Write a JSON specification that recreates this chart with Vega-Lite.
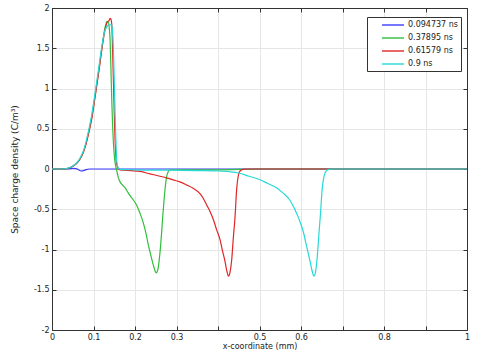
{
  "$schema": "https://vega.github.io/schema/vega-lite/v6.json",
  "width": 415,
  "height": 322,
  "autosize": {"type": "none"},
  "padding": {"left": 52, "top": 8, "right": 10, "bottom": 25},
  "background": "white",
  "config": {
    "font": "DejaVu Sans",
    "view": {"stroke": "#333333", "strokeWidth": 1},
    "axis": {
      "labelFont": "DejaVu Sans",
      "labelFontSize": 8,
      "labelColor": "#222222",
      "titleFont": "DejaVu Sans",
      "titleFontSize": 8,
      "titleFontWeight": "normal",
      "titleColor": "#222222",
      "domainColor": "#333333",
      "tickColor": "#333333",
      "gridColor": "#e6e6e6",
      "gridWidth": 1
    }
  },
  "data": {
    "values": [
      {"t": "0.094737 ns", "x": 0, "y": 0},
      {"t": "0.094737 ns", "x": 0.04, "y": 0},
      {"t": "0.094737 ns", "x": 0.05, "y": 0.008},
      {"t": "0.094737 ns", "x": 0.058, "y": 0.005},
      {"t": "0.094737 ns", "x": 0.064, "y": -0.01},
      {"t": "0.094737 ns", "x": 0.07, "y": -0.025},
      {"t": "0.094737 ns", "x": 0.076, "y": -0.02},
      {"t": "0.094737 ns", "x": 0.082, "y": -0.008},
      {"t": "0.094737 ns", "x": 0.09, "y": 0},
      {"t": "0.094737 ns", "x": 1, "y": 0},

      {"t": "0.37895 ns", "x": 0, "y": 0},
      {"t": "0.37895 ns", "x": 0.02, "y": 0},
      {"t": "0.37895 ns", "x": 0.035, "y": 0.005},
      {"t": "0.37895 ns", "x": 0.043, "y": 0.016},
      {"t": "0.37895 ns", "x": 0.05, "y": 0.035},
      {"t": "0.37895 ns", "x": 0.059, "y": 0.07},
      {"t": "0.37895 ns", "x": 0.066, "y": 0.115},
      {"t": "0.37895 ns", "x": 0.072, "y": 0.17},
      {"t": "0.37895 ns", "x": 0.078, "y": 0.25},
      {"t": "0.37895 ns", "x": 0.084, "y": 0.36},
      {"t": "0.37895 ns", "x": 0.09, "y": 0.5},
      {"t": "0.37895 ns", "x": 0.096, "y": 0.65},
      {"t": "0.37895 ns", "x": 0.102, "y": 0.85},
      {"t": "0.37895 ns", "x": 0.108, "y": 1.06},
      {"t": "0.37895 ns", "x": 0.112, "y": 1.2},
      {"t": "0.37895 ns", "x": 0.116, "y": 1.35},
      {"t": "0.37895 ns", "x": 0.12, "y": 1.5},
      {"t": "0.37895 ns", "x": 0.124, "y": 1.64},
      {"t": "0.37895 ns", "x": 0.127, "y": 1.74},
      {"t": "0.37895 ns", "x": 0.13, "y": 1.8},
      {"t": "0.37895 ns", "x": 0.132, "y": 1.83},
      {"t": "0.37895 ns", "x": 0.135, "y": 1.83},
      {"t": "0.37895 ns", "x": 0.138, "y": 1.75},
      {"t": "0.37895 ns", "x": 0.14, "y": 1.6},
      {"t": "0.37895 ns", "x": 0.142, "y": 1.25},
      {"t": "0.37895 ns", "x": 0.144, "y": 0.86},
      {"t": "0.37895 ns", "x": 0.146, "y": 0.55},
      {"t": "0.37895 ns", "x": 0.149, "y": 0.24},
      {"t": "0.37895 ns", "x": 0.152, "y": 0.08},
      {"t": "0.37895 ns", "x": 0.156, "y": -0.02},
      {"t": "0.37895 ns", "x": 0.16, "y": -0.11},
      {"t": "0.37895 ns", "x": 0.164, "y": -0.16},
      {"t": "0.37895 ns", "x": 0.17, "y": -0.2},
      {"t": "0.37895 ns", "x": 0.177, "y": -0.24},
      {"t": "0.37895 ns", "x": 0.184, "y": -0.3},
      {"t": "0.37895 ns", "x": 0.194, "y": -0.37},
      {"t": "0.37895 ns", "x": 0.204, "y": -0.45},
      {"t": "0.37895 ns", "x": 0.212, "y": -0.55},
      {"t": "0.37895 ns", "x": 0.22, "y": -0.67},
      {"t": "0.37895 ns", "x": 0.226, "y": -0.79},
      {"t": "0.37895 ns", "x": 0.232, "y": -0.94},
      {"t": "0.37895 ns", "x": 0.238, "y": -1.07},
      {"t": "0.37895 ns", "x": 0.244, "y": -1.19},
      {"t": "0.37895 ns", "x": 0.248, "y": -1.26},
      {"t": "0.37895 ns", "x": 0.251, "y": -1.29},
      {"t": "0.37895 ns", "x": 0.254, "y": -1.27},
      {"t": "0.37895 ns", "x": 0.257, "y": -1.19},
      {"t": "0.37895 ns", "x": 0.26, "y": -1.05},
      {"t": "0.37895 ns", "x": 0.264, "y": -0.8},
      {"t": "0.37895 ns", "x": 0.267, "y": -0.58},
      {"t": "0.37895 ns", "x": 0.27, "y": -0.385},
      {"t": "0.37895 ns", "x": 0.273, "y": -0.22},
      {"t": "0.37895 ns", "x": 0.276, "y": -0.1},
      {"t": "0.37895 ns", "x": 0.28, "y": -0.035},
      {"t": "0.37895 ns", "x": 0.284, "y": -0.012},
      {"t": "0.37895 ns", "x": 0.3, "y": -0.01},
      {"t": "0.37895 ns", "x": 0.4, "y": -0.01},
      {"t": "0.37895 ns", "x": 0.45, "y": -0.005},
      {"t": "0.37895 ns", "x": 0.5, "y": 0},
      {"t": "0.37895 ns", "x": 1, "y": 0},

      {"t": "0.61579 ns", "x": 0, "y": 0},
      {"t": "0.61579 ns", "x": 0.02, "y": 0},
      {"t": "0.61579 ns", "x": 0.035, "y": 0.005},
      {"t": "0.61579 ns", "x": 0.043, "y": 0.015},
      {"t": "0.61579 ns", "x": 0.05, "y": 0.033},
      {"t": "0.61579 ns", "x": 0.059, "y": 0.066},
      {"t": "0.61579 ns", "x": 0.066, "y": 0.11},
      {"t": "0.61579 ns", "x": 0.072, "y": 0.165},
      {"t": "0.61579 ns", "x": 0.078, "y": 0.24},
      {"t": "0.61579 ns", "x": 0.084, "y": 0.35},
      {"t": "0.61579 ns", "x": 0.09, "y": 0.48},
      {"t": "0.61579 ns", "x": 0.096, "y": 0.63},
      {"t": "0.61579 ns", "x": 0.102, "y": 0.83},
      {"t": "0.61579 ns", "x": 0.108, "y": 1.04},
      {"t": "0.61579 ns", "x": 0.112, "y": 1.18},
      {"t": "0.61579 ns", "x": 0.116, "y": 1.33},
      {"t": "0.61579 ns", "x": 0.12, "y": 1.48},
      {"t": "0.61579 ns", "x": 0.124, "y": 1.62},
      {"t": "0.61579 ns", "x": 0.127, "y": 1.71},
      {"t": "0.61579 ns", "x": 0.13, "y": 1.78},
      {"t": "0.61579 ns", "x": 0.134, "y": 1.83},
      {"t": "0.61579 ns", "x": 0.137, "y": 1.84},
      {"t": "0.61579 ns", "x": 0.14, "y": 1.87},
      {"t": "0.61579 ns", "x": 0.142, "y": 1.86},
      {"t": "0.61579 ns", "x": 0.144, "y": 1.8},
      {"t": "0.61579 ns", "x": 0.146, "y": 1.48},
      {"t": "0.61579 ns", "x": 0.148, "y": 1.1},
      {"t": "0.61579 ns", "x": 0.15, "y": 0.7},
      {"t": "0.61579 ns", "x": 0.153, "y": 0.24},
      {"t": "0.61579 ns", "x": 0.156, "y": 0.06},
      {"t": "0.61579 ns", "x": 0.16, "y": 0.005},
      {"t": "0.61579 ns", "x": 0.164, "y": -0.01},
      {"t": "0.61579 ns", "x": 0.19, "y": -0.02},
      {"t": "0.61579 ns", "x": 0.212, "y": -0.03},
      {"t": "0.61579 ns", "x": 0.236, "y": -0.06},
      {"t": "0.61579 ns", "x": 0.26, "y": -0.09},
      {"t": "0.61579 ns", "x": 0.276, "y": -0.11},
      {"t": "0.61579 ns", "x": 0.292, "y": -0.135},
      {"t": "0.61579 ns", "x": 0.308, "y": -0.16},
      {"t": "0.61579 ns", "x": 0.325, "y": -0.2},
      {"t": "0.61579 ns", "x": 0.34, "y": -0.24},
      {"t": "0.61579 ns", "x": 0.357, "y": -0.31},
      {"t": "0.61579 ns", "x": 0.365, "y": -0.37},
      {"t": "0.61579 ns", "x": 0.373, "y": -0.45},
      {"t": "0.61579 ns", "x": 0.381, "y": -0.53},
      {"t": "0.61579 ns", "x": 0.389, "y": -0.63},
      {"t": "0.61579 ns", "x": 0.397, "y": -0.76},
      {"t": "0.61579 ns", "x": 0.405, "y": -0.88},
      {"t": "0.61579 ns", "x": 0.411, "y": -1.02},
      {"t": "0.61579 ns", "x": 0.417, "y": -1.15},
      {"t": "0.61579 ns", "x": 0.421, "y": -1.26},
      {"t": "0.61579 ns", "x": 0.425, "y": -1.33},
      {"t": "0.61579 ns", "x": 0.429, "y": -1.28},
      {"t": "0.61579 ns", "x": 0.433, "y": -1.13},
      {"t": "0.61579 ns", "x": 0.437, "y": -0.85},
      {"t": "0.61579 ns", "x": 0.441, "y": -0.6},
      {"t": "0.61579 ns", "x": 0.445, "y": -0.25},
      {"t": "0.61579 ns", "x": 0.449, "y": -0.08},
      {"t": "0.61579 ns", "x": 0.453, "y": -0.025},
      {"t": "0.61579 ns", "x": 0.46, "y": -0.005},
      {"t": "0.61579 ns", "x": 0.47, "y": 0},
      {"t": "0.61579 ns", "x": 1, "y": 0},

      {"t": "0.9 ns", "x": 0, "y": 0},
      {"t": "0.9 ns", "x": 0.02, "y": 0},
      {"t": "0.9 ns", "x": 0.035, "y": 0.006},
      {"t": "0.9 ns", "x": 0.043, "y": 0.018},
      {"t": "0.9 ns", "x": 0.05, "y": 0.038},
      {"t": "0.9 ns", "x": 0.059, "y": 0.075},
      {"t": "0.9 ns", "x": 0.066, "y": 0.12},
      {"t": "0.9 ns", "x": 0.072, "y": 0.18},
      {"t": "0.9 ns", "x": 0.078, "y": 0.26},
      {"t": "0.9 ns", "x": 0.084, "y": 0.38},
      {"t": "0.9 ns", "x": 0.09, "y": 0.52},
      {"t": "0.9 ns", "x": 0.096, "y": 0.68},
      {"t": "0.9 ns", "x": 0.102, "y": 0.88},
      {"t": "0.9 ns", "x": 0.108, "y": 1.09},
      {"t": "0.9 ns", "x": 0.112, "y": 1.23},
      {"t": "0.9 ns", "x": 0.116, "y": 1.38},
      {"t": "0.9 ns", "x": 0.12, "y": 1.52},
      {"t": "0.9 ns", "x": 0.124, "y": 1.64},
      {"t": "0.9 ns", "x": 0.127, "y": 1.71},
      {"t": "0.9 ns", "x": 0.13, "y": 1.75},
      {"t": "0.9 ns", "x": 0.134, "y": 1.78},
      {"t": "0.9 ns", "x": 0.138, "y": 1.79},
      {"t": "0.9 ns", "x": 0.144, "y": 1.79},
      {"t": "0.9 ns", "x": 0.146, "y": 1.7},
      {"t": "0.9 ns", "x": 0.148, "y": 1.48},
      {"t": "0.9 ns", "x": 0.15, "y": 1.1},
      {"t": "0.9 ns", "x": 0.152, "y": 0.7},
      {"t": "0.9 ns", "x": 0.154, "y": 0.35},
      {"t": "0.9 ns", "x": 0.156, "y": 0.1},
      {"t": "0.9 ns", "x": 0.16, "y": 0.01},
      {"t": "0.9 ns", "x": 0.165, "y": -0.005},
      {"t": "0.9 ns", "x": 0.2, "y": -0.01},
      {"t": "0.9 ns", "x": 0.3, "y": -0.015},
      {"t": "0.9 ns", "x": 0.35, "y": -0.02},
      {"t": "0.9 ns", "x": 0.4, "y": -0.025},
      {"t": "0.9 ns", "x": 0.43, "y": -0.035},
      {"t": "0.9 ns", "x": 0.45, "y": -0.05},
      {"t": "0.9 ns", "x": 0.475, "y": -0.09},
      {"t": "0.9 ns", "x": 0.5, "y": -0.13},
      {"t": "0.9 ns", "x": 0.52, "y": -0.18},
      {"t": "0.9 ns", "x": 0.54, "y": -0.23},
      {"t": "0.9 ns", "x": 0.557, "y": -0.3},
      {"t": "0.9 ns", "x": 0.573, "y": -0.385},
      {"t": "0.9 ns", "x": 0.585, "y": -0.5},
      {"t": "0.9 ns", "x": 0.595, "y": -0.62},
      {"t": "0.9 ns", "x": 0.605, "y": -0.77},
      {"t": "0.9 ns", "x": 0.614, "y": -0.97},
      {"t": "0.9 ns", "x": 0.622, "y": -1.15},
      {"t": "0.9 ns", "x": 0.627, "y": -1.27},
      {"t": "0.9 ns", "x": 0.631, "y": -1.33},
      {"t": "0.9 ns", "x": 0.635, "y": -1.28},
      {"t": "0.9 ns", "x": 0.639, "y": -1.1},
      {"t": "0.9 ns", "x": 0.643, "y": -0.82},
      {"t": "0.9 ns", "x": 0.647, "y": -0.55},
      {"t": "0.9 ns", "x": 0.651, "y": -0.25},
      {"t": "0.9 ns", "x": 0.655, "y": -0.1},
      {"t": "0.9 ns", "x": 0.66, "y": -0.03},
      {"t": "0.9 ns", "x": 0.667, "y": -0.005},
      {"t": "0.9 ns", "x": 0.68, "y": 0},
      {"t": "0.9 ns", "x": 1, "y": 0}
    ]
  },
  "layer": [
    {
      "mark": {"type": "line", "strokeWidth": 1.2, "interpolate": "monotone"},
      "encoding": {
        "x": {
          "field": "x", "type": "quantitative",
          "scale": {"domain": [0, 1], "nice": false, "zero": false},
          "axis": {
            "orient": "bottom",
            "values": [0, 0.1, 0.2, 0.3, 0.4, 0.5, 0.6, 0.7, 0.8, 0.9, 1],
            "labelExpr": "(abs(datum.value-0.4)<1e-6 || abs(datum.value-0.7)<1e-6 || abs(datum.value-0.9)<1e-6) ? '' : '' + datum.value",
            "title": "x-coordinate (mm)",
            "grid": true,
            "tickSize": -4,
            "labelPadding": 7,
            "titlePadding": 1,
            "labelFlush": false,
            "labelOverlap": false
          }
        },
        "y": {
          "field": "y", "type": "quantitative",
          "scale": {"domain": [-2, 2], "nice": false, "zero": false},
          "axis": {
            "orient": "left",
            "values": [-2, -1.5, -1, -0.5, 0, 0.5, 1, 1.5, 2],
            "labelExpr": "'' + datum.value",
            "title": "Space charge density (C/m³)",
            "titleFontSize": 9,
            "grid": true,
            "tickSize": -4,
            "labelPadding": 7,
            "titlePadding": 14,
            "labelFlush": false,
            "labelOverlap": false
          }
        },
        "color": {
          "field": "t", "type": "nominal",
          "scale": {
            "domain": ["0.094737 ns", "0.37895 ns", "0.61579 ns", "0.9 ns"],
            "range": ["#3c3cff", "#2fbf3a", "#e02626", "#26d9d9"]
          },
          "legend": {
            "title": null,
            "orient": "none",
            "legendX": 315,
            "legendY": 9,
            "symbolType": "M-0.5,0H5",
            "symbolSize": 64,
            "symbolOffset": 9,
            "symbolStrokeWidth": 1.4,
            "labelFont": "DejaVu Sans",
            "labelFontSize": 8,
            "labelColor": "#222222",
            "fillColor": "white",
            "strokeColor": "#333333",
            "padding": 3,
            "rowPadding": 4,
            "labelOffset": 19
          }
        }
      }
    },
    {
      "mark": {"type": "point", "opacity": 0},
      "encoding": {
        "x": {
          "field": "x", "type": "quantitative",
          "axis": {
            "orient": "top",
            "values": [0, 0.1, 0.2, 0.3, 0.4, 0.5, 0.6, 0.7, 0.8, 0.9, 1],
            "labels": false, "title": null, "grid": false, "tickSize": -4
          }
        },
        "y": {
          "field": "y", "type": "quantitative",
          "axis": {
            "orient": "right",
            "values": [-2, -1.5, -1, -0.5, 0, 0.5, 1, 1.5, 2],
            "labels": false, "title": null, "grid": false, "tickSize": -4
          }
        }
      }
    }
  ],
  "resolve": {"axis": {"x": "independent", "y": "independent"}}
}
